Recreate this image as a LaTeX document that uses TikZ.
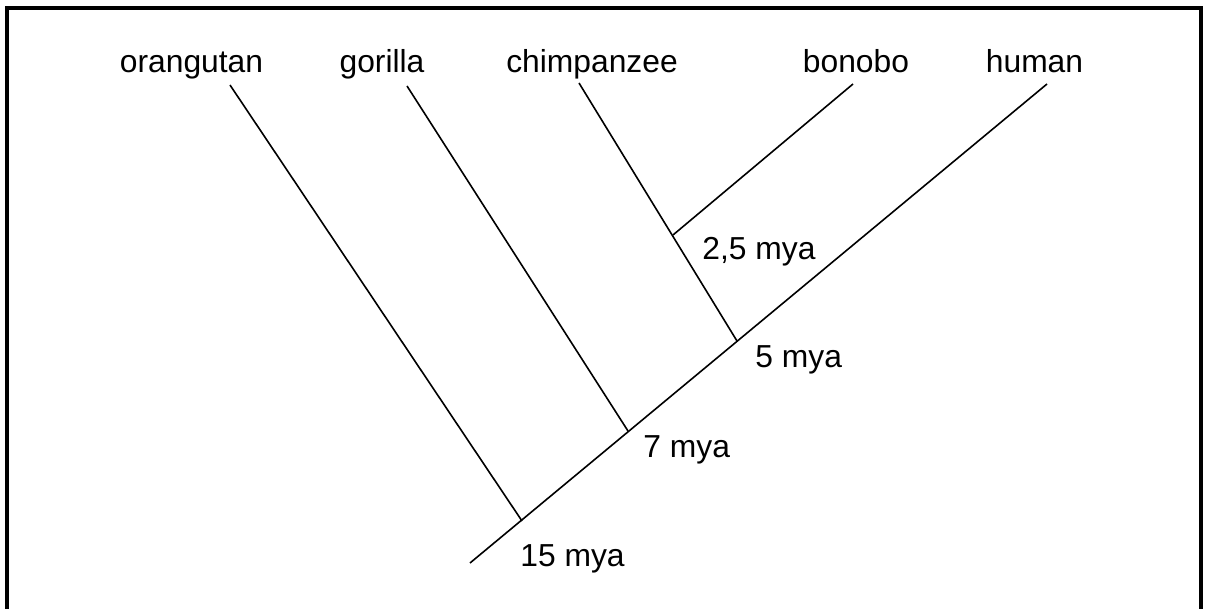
\documentclass[tikz,border=0pt]{standalone}
\usepackage{fontspec}
\setmainfont{Liberation Sans}
\begin{document}
\begin{tikzpicture}[x=0.5pt,y=-0.5pt,
  lbl/.style={inner sep=0pt,font=\fontsize{15.9}{19}\selectfont},
  branch/.style={line width=0.8pt,black},
  frame/.style={line width=1.7pt,black}]
\useasboundingbox (0,0) rectangle (1206,609);
\draw[frame] (7,609) -- (7,8) -- (1201,8) -- (1201,609);
% leaf labels
\node[lbl,anchor=base] (orang) at (191.5,73) {orangutan};
\node[lbl,anchor=base] (gor) at (382,73) {gorilla};
\node[lbl,anchor=base] (chimp) at (592,73) {chimpanzee};
\node[lbl,anchor=base] (bon) at (856,73) {bonobo};
\node[lbl,anchor=base] (hum) at (1034.5,73) {human};
% branch tips
\coordinate (torang) at (230,85);
\coordinate (tgor) at (407,86);
\coordinate (tchimp) at (579,83);
\coordinate (tbon) at (853,84);
\coordinate (thum) at (1047,84);
% junctions
\coordinate (root) at (470,563);
\coordinate (j15) at (522,521);
\coordinate (j7) at (628,431);
\coordinate (j5) at (737,341);
\coordinate (j25) at (673,235);
% branches
\draw[branch] (root) -- (thum);
\draw[branch] (torang) -- (j15);
\draw[branch] (tgor) -- (j7);
\draw[branch] (tchimp) -- (j5);
\draw[branch] (tbon) -- (j25);
% time labels
\node[lbl,anchor=base west] (m25) at (702,260) {2,5 mya};
\node[lbl,anchor=base west] (m5) at (755,368) {5 mya};
\node[lbl,anchor=base west] (m7) at (643,458) {7 mya};
\node[lbl,anchor=base west] (m15) at (520,567) {15 mya};
\end{tikzpicture}
\end{document}
